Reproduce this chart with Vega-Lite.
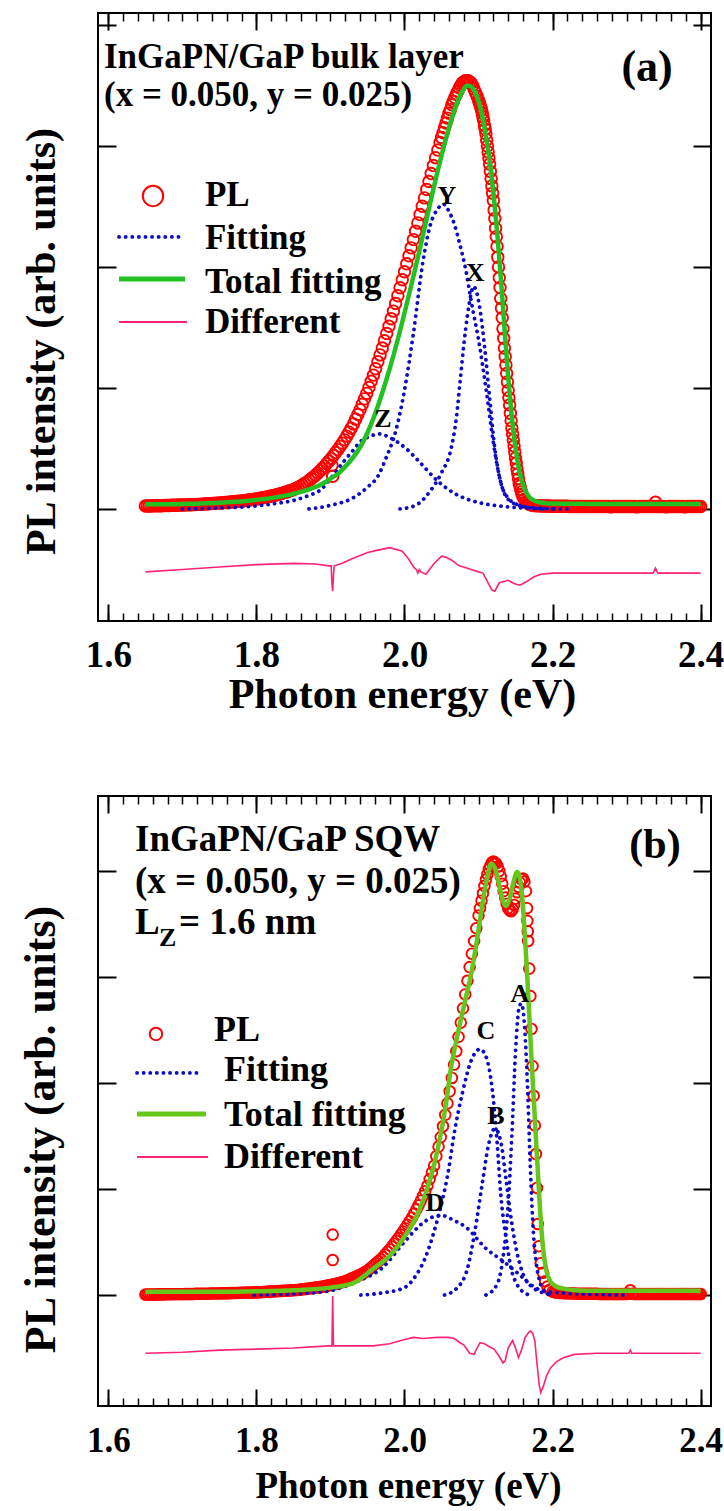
{
"$schema":"https://vega.github.io/schema/vega-lite/v6.json",
"background":"white",
"padding":{"left":17,"top":11,"right":5,"bottom":5},
"spacing":175,
"bounds":"flush",
"config":{
 "view":{"stroke":"#000","strokeWidth":2},
 "axis":{"grid":false,"domain":false,"labelFont":"Liberation Serif","titleFont":"Liberation Serif","labelFontWeight":"bold","titleFontWeight":"bold","labelColor":"#000","titleColor":"#000","tickColor":"#000","tickWidth":1.8,"labelFlush":false,"labelOverlap":false,"labelBound":false},
 "text":{"font":"Liberation Serif","fontWeight":"bold","color":"#000"}
},
"datasets":{
"pa":[{"e":1.65,"v":0.025},{"e":1.6525,"v":0.025},{"e":1.655,"v":0.025},{"e":1.6575,"v":0.025},{"e":1.66,"v":0.026},{"e":1.6625,"v":0.026},{"e":1.665,"v":0.026},{"e":1.6675,"v":0.027},{"e":1.67,"v":0.027},{"e":1.6725,"v":0.027},{"e":1.675,"v":0.028},{"e":1.6775,"v":0.028},{"e":1.68,"v":0.029},{"e":1.6825,"v":0.029},{"e":1.685,"v":0.03},{"e":1.6875,"v":0.03},{"e":1.69,"v":0.031},{"e":1.6925,"v":0.031},{"e":1.695,"v":0.032},{"e":1.6975,"v":0.032},{"e":1.7,"v":0.033},{"e":1.7025,"v":0.033},{"e":1.705,"v":0.034},{"e":1.7075,"v":0.034},{"e":1.71,"v":0.035},{"e":1.7125,"v":0.035},{"e":1.715,"v":0.036},{"e":1.7175,"v":0.037},{"e":1.72,"v":0.038},{"e":1.7225,"v":0.038},{"e":1.725,"v":0.039},{"e":1.7275,"v":0.04},{"e":1.73,"v":0.041},{"e":1.7325,"v":0.042},{"e":1.735,"v":0.043},{"e":1.7375,"v":0.044},{"e":1.74,"v":0.045},{"e":1.7425,"v":0.046},{"e":1.745,"v":0.047},{"e":1.7475,"v":0.048},{"e":1.75,"v":0.049},{"e":1.7525,"v":0.05},{"e":1.755,"v":0.052},{"e":1.7575,"v":0.053},{"e":1.76,"v":0.054},{"e":1.7625,"v":0.055},{"e":1.765,"v":0.057},{"e":1.7675,"v":0.058},{"e":1.77,"v":0.06},{"e":1.7725,"v":0.061},{"e":1.775,"v":0.063},{"e":1.7775,"v":0.064},{"e":1.78,"v":0.066},{"e":1.7825,"v":0.068},{"e":1.785,"v":0.07},{"e":1.7875,"v":0.072},{"e":1.79,"v":0.074},{"e":1.7925,"v":0.076},{"e":1.795,"v":0.079},{"e":1.7975,"v":0.081},{"e":1.8,"v":0.083},{"e":1.8025,"v":0.086},{"e":1.805,"v":0.089},{"e":1.8075,"v":0.091},{"e":1.81,"v":0.094},{"e":1.8125,"v":0.097},{"e":1.815,"v":0.1},{"e":1.8175,"v":0.103},{"e":1.82,"v":0.107},{"e":1.8225,"v":0.11},{"e":1.825,"v":0.114},{"e":1.8275,"v":0.118},{"e":1.83,"v":0.122},{"e":1.8325,"v":0.126},{"e":1.835,"v":0.131},{"e":1.8375,"v":0.135},{"e":1.84,"v":0.14},{"e":1.8425,"v":0.145},{"e":1.845,"v":0.15},{"e":1.8475,"v":0.155},{"e":1.85,"v":0.16},
{"e":1.853,"v":0.169},{"e":1.856,"v":0.178},{"e":1.859,"v":0.187},{"e":1.862,"v":0.198},{"e":1.865,"v":0.21},{"e":1.868,"v":0.222},{"e":1.871,"v":0.235},{"e":1.874,"v":0.25},{"e":1.877,"v":0.265},{"e":1.88,"v":0.28},{"e":1.883,"v":0.298},{"e":1.886,"v":0.316},{"e":1.889,"v":0.334},{"e":1.892,"v":0.354},{"e":1.895,"v":0.375},{"e":1.898,"v":0.396},{"e":1.901,"v":0.418},{"e":1.902,"v":0.36},{"e":1.903,"v":0.27},{"e":1.904,"v":0.442},{"e":1.907,"v":0.466},{"e":1.91,"v":0.49},{"e":1.913,"v":0.517},{"e":1.916,"v":0.544},{"e":1.919,"v":0.571},{"e":1.922,"v":0.602},{"e":1.925,"v":0.635},{"e":1.928,"v":0.668},{"e":1.931,"v":0.703},{"e":1.934,"v":0.742},{"e":1.937,"v":0.781},{"e":1.94,"v":0.82},{"e":1.943,"v":0.865},{"e":1.946,"v":0.91},{"e":1.949,"v":0.955},{"e":1.952,"v":1.004},{"e":1.955,"v":1.055},{"e":1.958,"v":1.106},{"e":1.961,"v":1.159},{"e":1.964,"v":1.216},{"e":1.967,"v":1.273},{"e":1.97,"v":1.33},{"e":1.973,"v":1.39},{"e":1.976,"v":1.45},{"e":1.979,"v":1.51},{"e":1.982,"v":1.572},{"e":1.985,"v":1.635},{"e":1.988,"v":1.698},{"e":1.991,"v":1.762},{"e":1.994,"v":1.828},{"e":1.997,"v":1.894},{"e":2.0,"v":1.96},{"e":2.003,"v":2.026},{"e":2.006,"v":2.092},{"e":2.009,"v":2.158},{"e":2.012,"v":2.226},{"e":2.015,"v":2.295},{"e":2.018,"v":2.364},{"e":2.021,"v":2.433},{"e":2.024,"v":2.502},{"e":2.027,"v":2.571},{"e":2.03,"v":2.64},{"e":2.033,"v":2.706},{"e":2.036,"v":2.772},{"e":2.039,"v":2.838},{"e":2.042,"v":2.903},{"e":2.045,"v":2.966},{"e":2.048,"v":3.028},
{"e":2.05,"v":3.07},{"e":2.052,"v":3.11},{"e":2.054,"v":3.15},{"e":2.056,"v":3.19},{"e":2.058,"v":3.23},{"e":2.06,"v":3.27},{"e":2.062,"v":3.3},{"e":2.064,"v":3.34},{"e":2.066,"v":3.37},{"e":2.068,"v":3.4},{"e":2.07,"v":3.43},{"e":2.072,"v":3.45},{"e":2.074,"v":3.48},{"e":2.076,"v":3.5},{"e":2.078,"v":3.52},{"e":2.08,"v":3.53},{"e":2.082,"v":3.54},{"e":2.084,"v":3.54},{"e":2.086,"v":3.54},{"e":2.088,"v":3.53},{"e":2.09,"v":3.52},{"e":2.092,"v":3.5},{"e":2.094,"v":3.47},{"e":2.096,"v":3.44},{"e":2.098,"v":3.41},{"e":2.1,"v":3.38},
{"e":2.101,"v":3.36},{"e":2.102,"v":3.34},{"e":2.103,"v":3.32},{"e":2.104,"v":3.3},{"e":2.105,"v":3.27},{"e":2.106,"v":3.24},{"e":2.107,"v":3.21},{"e":2.108,"v":3.17},{"e":2.109,"v":3.14},{"e":2.11,"v":3.1},{"e":2.111,"v":3.05},{"e":2.112,"v":3.0},{"e":2.113,"v":2.95},{"e":2.114,"v":2.9},{"e":2.115,"v":2.85},{"e":2.116,"v":2.79},{"e":2.117,"v":2.73},{"e":2.118,"v":2.67},{"e":2.119,"v":2.61},{"e":2.12,"v":2.55},{"e":2.121,"v":2.47},{"e":2.122,"v":2.4},{"e":2.123,"v":2.32},{"e":2.124,"v":2.25},{"e":2.125,"v":2.17},{"e":2.126,"v":2.08},{"e":2.127,"v":2.0},{"e":2.128,"v":1.91},{"e":2.129,"v":1.83},{"e":2.13,"v":1.74},{"e":2.131,"v":1.66},{"e":2.132,"v":1.58},{"e":2.133,"v":1.49},{"e":2.134,"v":1.41},{"e":2.135,"v":1.33},{"e":2.136,"v":1.26},{"e":2.137,"v":1.19},{"e":2.138,"v":1.12},{"e":2.139,"v":1.05},{"e":2.14,"v":0.98},{"e":2.141,"v":0.92},{"e":2.142,"v":0.86},{"e":2.143,"v":0.79},{"e":2.144,"v":0.73},{"e":2.145,"v":0.67},{"e":2.146,"v":0.62},{"e":2.147,"v":0.57},{"e":2.148,"v":0.52},{"e":2.149,"v":0.47},{"e":2.15,"v":0.42},{"e":2.151,"v":0.38},{"e":2.152,"v":0.33},{"e":2.153,"v":0.29},{"e":2.154,"v":0.25},{"e":2.155,"v":0.21},{"e":2.156,"v":0.19},{"e":2.157,"v":0.16},{"e":2.158,"v":0.14},{"e":2.159,"v":0.12},{"e":2.16,"v":0.1},{"e":2.162,"v":0.08},{"e":2.164,"v":0.06},{"e":2.166,"v":0.05},{"e":2.168,"v":0.04},{"e":2.17,"v":0.035},
{"e":2.1725,"v":0.031},{"e":2.175,"v":0.028},{"e":2.1775,"v":0.027},{"e":2.18,"v":0.026},{"e":2.1825,"v":0.026},{"e":2.185,"v":0.025},{"e":2.1875,"v":0.025},{"e":2.19,"v":0.024},{"e":2.1925,"v":0.024},{"e":2.195,"v":0.024},{"e":2.1975,"v":0.023},{"e":2.2,"v":0.023},{"e":2.2025,"v":0.023},{"e":2.205,"v":0.023},{"e":2.2075,"v":0.022},{"e":2.21,"v":0.022},{"e":2.2125,"v":0.022},{"e":2.215,"v":0.022},{"e":2.2175,"v":0.022},{"e":2.22,"v":0.022},{"e":2.2225,"v":0.021},{"e":2.225,"v":0.021},{"e":2.2275,"v":0.021},{"e":2.23,"v":0.021},{"e":2.2325,"v":0.021},{"e":2.235,"v":0.021},{"e":2.2375,"v":0.021},{"e":2.24,"v":0.021},{"e":2.2425,"v":0.021},{"e":2.245,"v":0.021},{"e":2.2475,"v":0.02},{"e":2.25,"v":0.02},{"e":2.2525,"v":0.02},{"e":2.255,"v":0.02},{"e":2.2575,"v":0.02},{"e":2.26,"v":0.02},{"e":2.2625,"v":0.02},{"e":2.265,"v":0.021},{"e":2.2675,"v":0.02},{"e":2.27,"v":0.02},{"e":2.2725,"v":0.02},{"e":2.275,"v":0.02},{"e":2.2775,"v":0.019},{"e":2.28,"v":0.019},{"e":2.2825,"v":0.02},{"e":2.285,"v":0.02},{"e":2.2875,"v":0.02},{"e":2.29,"v":0.02},{"e":2.2925,"v":0.02},{"e":2.295,"v":0.02},{"e":2.2975,"v":0.021},{"e":2.3,"v":0.021},{"e":2.3025,"v":0.02},{"e":2.305,"v":0.02},{"e":2.3075,"v":0.02},{"e":2.31,"v":0.02},{"e":2.3125,"v":0.019},{"e":2.315,"v":0.019},{"e":2.3175,"v":0.02},{"e":2.32,"v":0.02},{"e":2.3225,"v":0.02},{"e":2.325,"v":0.02},{"e":2.3275,"v":0.02},{"e":2.33,"v":0.02},{"e":2.3325,"v":0.02},{"e":2.335,"v":0.02},{"e":2.3375,"v":0.02},{"e":2.339,"v":0.055},{"e":2.34,"v":0.02},{"e":2.3425,"v":0.02},{"e":2.345,"v":0.02},{"e":2.3475,"v":0.02},{"e":2.35,"v":0.02},{"e":2.3525,"v":0.019},{"e":2.355,"v":0.019},{"e":2.3575,"v":0.02},{"e":2.36,"v":0.02},{"e":2.3625,"v":0.02},{"e":2.365,"v":0.02},{"e":2.3675,"v":0.02},{"e":2.37,"v":0.02},{"e":2.3725,"v":0.02},{"e":2.375,"v":0.02},{"e":2.3775,"v":0.019},{"e":2.38,"v":0.019},{"e":2.3825,"v":0.02},{"e":2.385,"v":0.02},{"e":2.3875,"v":0.02},{"e":2.39,"v":0.02},{"e":2.3925,"v":0.02},{"e":2.395,"v":0.02},{"e":2.3975,"v":0.02},{"e":2.4,"v":0.02}],
"ta":[{"e":1.65,"v":0.038},{"e":1.7,"v":0.042},{"e":1.75,"v":0.052},{"e":1.8,"v":0.075},{"e":1.83,"v":0.1},{"e":1.85,"v":0.125},{"e":1.87,"v":0.16},{"e":1.89,"v":0.21},{"e":1.9,"v":0.25},{"e":1.91,"v":0.29},{"e":1.92,"v":0.35},{"e":1.93,"v":0.42},{"e":1.94,"v":0.51},{"e":1.95,"v":0.63},{"e":1.96,"v":0.78},{"e":1.97,"v":0.96},{"e":1.98,"v":1.16},{"e":1.99,"v":1.38},{"e":2.0,"v":1.62},{"e":2.01,"v":1.87},{"e":2.02,"v":2.13},{"e":2.03,"v":2.4},{"e":2.04,"v":2.67},{"e":2.05,"v":2.92},{"e":2.06,"v":3.15},{"e":2.07,"v":3.34},{"e":2.078,"v":3.45},{"e":2.085,"v":3.5},{"e":2.09,"v":3.49},{"e":2.095,"v":3.45},{"e":2.1,"v":3.37},{"e":2.105,"v":3.25},{"e":2.11,"v":3.08},{"e":2.115,"v":2.88},{"e":2.12,"v":2.62},{"e":2.125,"v":2.3},{"e":2.13,"v":1.92},{"e":2.135,"v":1.5},{"e":2.14,"v":1.1},{"e":2.145,"v":0.76},{"e":2.15,"v":0.5},{"e":2.155,"v":0.32},{"e":2.16,"v":0.2},{"e":2.165,"v":0.13},{"e":2.17,"v":0.09},{"e":2.175,"v":0.07},{"e":2.18,"v":0.058},{"e":2.19,"v":0.048},{"e":2.2,"v":0.045},{"e":2.25,"v":0.042},{"e":2.3,"v":0.04},{"e":2.4,"v":0.04}],
"fa":[{"c":"Z","e":1.7,"v":0},{"c":"Z","e":1.75,"v":0.008},{"c":"Z","e":1.8,"v":0.025},{"c":"Z","e":1.826,"v":0.045},{"c":"Z","e":1.85,"v":0.07},{"c":"Z","e":1.87,"v":0.11},{"c":"Z","e":1.887,"v":0.16},{"c":"Z","e":1.9,"v":0.25},{"c":"Z","e":1.919,"v":0.4},{"c":"Z","e":1.93,"v":0.48},{"c":"Z","e":1.941,"v":0.56},{"c":"Z","e":1.953,"v":0.6},{"c":"Z","e":1.967,"v":0.62},{"c":"Z","e":1.98,"v":0.59},{"c":"Z","e":2.002,"v":0.5},{"c":"Z","e":2.02,"v":0.39},{"c":"Z","e":2.045,"v":0.23},{"c":"Z","e":2.07,"v":0.12},{"c":"Z","e":2.09,"v":0.07},{"c":"Z","e":2.11,"v":0.04},{"c":"Z","e":2.135,"v":0.02},{"c":"Z","e":2.16,"v":0.008},{"c":"Z","e":2.19,"v":0.003},{"c":"Z","e":2.228,"v":0},
{"c":"Y","e":1.871,"v":0},{"c":"Y","e":1.9,"v":0.03},{"c":"Y","e":1.93,"v":0.09},{"c":"Y","e":1.95,"v":0.18},{"c":"Y","e":1.964,"v":0.27},{"c":"Y","e":1.975,"v":0.42},{"c":"Y","e":1.988,"v":0.64},{"c":"Y","e":2.0,"v":0.98},{"c":"Y","e":2.012,"v":1.45},{"c":"Y","e":2.025,"v":2.05},{"c":"Y","e":2.035,"v":2.35},{"c":"Y","e":2.045,"v":2.48},{"c":"Y","e":2.052,"v":2.52},{"c":"Y","e":2.06,"v":2.46},{"c":"Y","e":2.068,"v":2.34},{"c":"Y","e":2.075,"v":2.18},{"c":"Y","e":2.083,"v":1.97},{"c":"Y","e":2.09,"v":1.72},{"c":"Y","e":2.1,"v":1.4},{"c":"Y","e":2.11,"v":1.0},{"c":"Y","e":2.12,"v":0.55},{"c":"Y","e":2.13,"v":0.22},{"c":"Y","e":2.14,"v":0.08},{"c":"Y","e":2.16,"v":0.02},{"c":"Y","e":2.2,"v":0},
{"c":"X","e":1.994,"v":0},{"c":"X","e":2.015,"v":0.03},{"c":"X","e":2.035,"v":0.15},{"c":"X","e":2.05,"v":0.3},{"c":"X","e":2.063,"v":0.5},{"c":"X","e":2.07,"v":0.75},{"c":"X","e":2.075,"v":1.05},{"c":"X","e":2.08,"v":1.35},{"c":"X","e":2.085,"v":1.6},{"c":"X","e":2.09,"v":1.78},{"c":"X","e":2.093,"v":1.84},{"c":"X","e":2.097,"v":1.8},{"c":"X","e":2.102,"v":1.65},{"c":"X","e":2.108,"v":1.35},{"c":"X","e":2.115,"v":0.92},{"c":"X","e":2.122,"v":0.5},{"c":"X","e":2.13,"v":0.22},{"c":"X","e":2.14,"v":0.09},{"c":"X","e":2.155,"v":0.03},{"c":"X","e":2.17,"v":0.01},{"c":"X","e":2.19,"v":0}],
"da":[{"e":1.65,"v":-0.52},{"e":1.7,"v":-0.5},{"e":1.75,"v":-0.48},{"e":1.8,"v":-0.46},{"e":1.85,"v":-0.45},{"e":1.88,"v":-0.455},{"e":1.898,"v":-0.47},{"e":1.901,"v":-0.47},{"e":1.902,"v":-0.62},{"e":1.903,"v":-0.68},{"e":1.904,"v":-0.55},{"e":1.905,"v":-0.47},{"e":1.915,"v":-0.45},{"e":1.93,"v":-0.41},{"e":1.95,"v":-0.36},{"e":1.964,"v":-0.34},{"e":1.98,"v":-0.32},{"e":1.997,"v":-0.35},{"e":2.005,"v":-0.41},{"e":2.013,"v":-0.485},{"e":2.016,"v":-0.5},{"e":2.018,"v":-0.53},{"e":2.02,"v":-0.5},{"e":2.022,"v":-0.52},{"e":2.029,"v":-0.54},{"e":2.04,"v":-0.45},{"e":2.05,"v":-0.39},{"e":2.056,"v":-0.4},{"e":2.063,"v":-0.42},{"e":2.074,"v":-0.47},{"e":2.085,"v":-0.49},{"e":2.09,"v":-0.5},{"e":2.1,"v":-0.52},{"e":2.106,"v":-0.53},{"e":2.112,"v":-0.6},{"e":2.118,"v":-0.67},{"e":2.122,"v":-0.68},{"e":2.128,"v":-0.61},{"e":2.134,"v":-0.6},{"e":2.14,"v":-0.59},{"e":2.146,"v":-0.61},{"e":2.15,"v":-0.62},{"e":2.156,"v":-0.63},{"e":2.165,"v":-0.6},{"e":2.175,"v":-0.56},{"e":2.184,"v":-0.54},{"e":2.2,"v":-0.53},{"e":2.25,"v":-0.53},{"e":2.3,"v":-0.53},{"e":2.336,"v":-0.53},{"e":2.339,"v":-0.49},{"e":2.342,"v":-0.53},{"e":2.4,"v":-0.53}],
"pb":[{"e":1.65,"v":0.004},{"e":1.6525,"v":0.004},{"e":1.655,"v":0.004},{"e":1.6575,"v":0.005},{"e":1.66,"v":0.005},{"e":1.6625,"v":0.005},{"e":1.665,"v":0.005},{"e":1.6675,"v":0.006},{"e":1.67,"v":0.006},{"e":1.6725,"v":0.006},{"e":1.675,"v":0.006},{"e":1.6775,"v":0.007},{"e":1.68,"v":0.007},{"e":1.6825,"v":0.007},{"e":1.685,"v":0.007},{"e":1.6875,"v":0.008},{"e":1.69,"v":0.008},{"e":1.6925,"v":0.008},{"e":1.695,"v":0.008},{"e":1.6975,"v":0.008},{"e":1.7,"v":0.008},{"e":1.7025,"v":0.009},{"e":1.705,"v":0.009},{"e":1.7075,"v":0.01},{"e":1.71,"v":0.01},{"e":1.7125,"v":0.01},{"e":1.715,"v":0.01},{"e":1.7175,"v":0.011},{"e":1.72,"v":0.011},{"e":1.7225,"v":0.012},{"e":1.725,"v":0.012},{"e":1.7275,"v":0.012},{"e":1.73,"v":0.012},{"e":1.7325,"v":0.013},{"e":1.735,"v":0.013},{"e":1.7375,"v":0.014},{"e":1.74,"v":0.014},{"e":1.7425,"v":0.014},{"e":1.745,"v":0.014},{"e":1.7475,"v":0.015},{"e":1.75,"v":0.015},{"e":1.7525,"v":0.016},{"e":1.755,"v":0.016},{"e":1.7575,"v":0.017},{"e":1.76,"v":0.017},{"e":1.7625,"v":0.018},{"e":1.765,"v":0.018},{"e":1.7675,"v":0.019},{"e":1.77,"v":0.019},{"e":1.7725,"v":0.02},{"e":1.775,"v":0.02},{"e":1.7775,"v":0.021},{"e":1.78,"v":0.021},{"e":1.7825,"v":0.022},{"e":1.785,"v":0.022},{"e":1.7875,"v":0.023},{"e":1.79,"v":0.023},{"e":1.7925,"v":0.024},{"e":1.795,"v":0.024},{"e":1.7975,"v":0.025},{"e":1.8,"v":0.025},{"e":1.8025,"v":0.026},{"e":1.805,"v":0.027},{"e":1.8075,"v":0.028},{"e":1.81,"v":0.029},{"e":1.8125,"v":0.03},{"e":1.815,"v":0.031},{"e":1.8175,"v":0.032},{"e":1.82,"v":0.033},{"e":1.8225,"v":0.034},{"e":1.825,"v":0.035},{"e":1.8275,"v":0.036},{"e":1.83,"v":0.037},{"e":1.8325,"v":0.038},{"e":1.835,"v":0.039},{"e":1.8375,"v":0.04},{"e":1.84,"v":0.041},{"e":1.8425,"v":0.042},{"e":1.845,"v":0.043},{"e":1.8475,"v":0.044},{"e":1.85,"v":0.045},{"e":1.8525,"v":0.047},{"e":1.855,"v":0.048},{"e":1.8575,"v":0.05},{"e":1.86,"v":0.052},{"e":1.8625,"v":0.054},{"e":1.865,"v":0.056},{"e":1.8675,"v":0.058},{"e":1.87,"v":0.06},{"e":1.8725,"v":0.063},{"e":1.875,"v":0.065},{"e":1.8775,"v":0.068},{"e":1.88,"v":0.07},{"e":1.8825,"v":0.073},{"e":1.885,"v":0.075},{"e":1.8875,"v":0.078},{"e":1.89,"v":0.08},{"e":1.8925,"v":0.084},{"e":1.895,"v":0.087},{"e":1.8975,"v":0.091},{"e":1.9,"v":0.095},{"e":1.903,"v":0.57},{"e":1.903,"v":0.33},{"e":1.9025,"v":0.098},{"e":1.905,"v":0.102},{"e":1.9075,"v":0.106},{"e":1.91,"v":0.11},{"e":1.9125,"v":0.115},{"e":1.915,"v":0.12},{"e":1.9175,"v":0.125},{"e":1.92,"v":0.13},{"e":1.9225,"v":0.138},{"e":1.925,"v":0.145},{"e":1.9275,"v":0.153},{"e":1.93,"v":0.16},{"e":1.9325,"v":0.168},{"e":1.935,"v":0.175},{"e":1.9375,"v":0.183},{"e":1.94,"v":0.19},{"e":1.9425,"v":0.2},{"e":1.945,"v":0.21},{"e":1.9475,"v":0.22},{"e":1.95,"v":0.23},
{"e":1.953,"v":0.248},{"e":1.956,"v":0.266},{"e":1.959,"v":0.284},{"e":1.962,"v":0.302},{"e":1.965,"v":0.32},{"e":1.968,"v":0.338},{"e":1.971,"v":0.358},{"e":1.974,"v":0.382},{"e":1.977,"v":0.406},{"e":1.98,"v":0.43},{"e":1.983,"v":0.457},{"e":1.986,"v":0.484},{"e":1.989,"v":0.511},{"e":1.992,"v":0.538},{"e":1.995,"v":0.57},{"e":1.998,"v":0.6},{"e":2.001,"v":0.631},{"e":2.004,"v":0.664},{"e":2.007,"v":0.697},{"e":2.01,"v":0.73},{"e":2.013,"v":0.769},{"e":2.016,"v":0.808},{"e":2.019,"v":0.847},{"e":2.022,"v":0.89},{"e":2.025,"v":0.935},{"e":2.028,"v":0.98},{"e":2.031,"v":1.031},{"e":2.034,"v":1.094},{"e":2.037,"v":1.157},{"e":2.04,"v":1.22},{"e":2.043,"v":1.31},{"e":2.046,"v":1.4},{"e":2.049,"v":1.49},{"e":2.052,"v":1.592},{"e":2.055,"v":1.7},{"e":2.058,"v":1.808},{"e":2.061,"v":1.922},{"e":2.064,"v":2.048},{"e":2.067,"v":2.174},{"e":2.07,"v":2.3},{"e":2.073,"v":2.435},{"e":2.076,"v":2.57},{"e":2.079,"v":2.705},{"e":2.082,"v":2.836},{"e":2.085,"v":2.965},{"e":2.088,"v":3.094},{"e":2.091,"v":3.22},{"e":2.094,"v":3.34},{"e":2.097,"v":3.46},{"e":2.1,"v":3.58},
{"e":2.102,"v":3.65},{"e":2.104,"v":3.72},{"e":2.106,"v":3.79},{"e":2.108,"v":3.86},{"e":2.11,"v":3.92},{"e":2.112,"v":3.97},{"e":2.114,"v":4.02},{"e":2.116,"v":4.05},{"e":2.118,"v":4.08},{"e":2.12,"v":4.09},{"e":2.122,"v":4.08},{"e":2.124,"v":4.07},{"e":2.126,"v":4.04},{"e":2.128,"v":4.0},{"e":2.13,"v":3.95},{"e":2.132,"v":3.88},{"e":2.134,"v":3.81},{"e":2.136,"v":3.75},{"e":2.138,"v":3.69},{"e":2.14,"v":3.65},{"e":2.142,"v":3.63},{"e":2.144,"v":3.62},{"e":2.146,"v":3.64},{"e":2.148,"v":3.68},{"e":2.15,"v":3.74},{"e":2.152,"v":3.8},{"e":2.154,"v":3.85},{"e":2.156,"v":3.89},{"e":2.158,"v":3.92},{"e":2.16,"v":3.93},{"e":2.162,"v":3.9},
{"e":2.164,"v":3.81},{"e":2.1655,"v":3.65},{"e":2.166,"v":3.53},{"e":2.1665,"v":3.43},{"e":2.167,"v":3.34},{"e":2.1685,"v":3.08},{"e":2.17,"v":2.82},{"e":2.1715,"v":2.51},{"e":2.173,"v":2.16},{"e":2.1745,"v":1.88},{"e":2.176,"v":1.6},{"e":2.1775,"v":1.33},{"e":2.179,"v":1.01},{"e":2.18,"v":0.67},{"e":2.1815,"v":0.46},{"e":2.184,"v":0.3},{"e":2.187,"v":0.21},{"e":2.19,"v":0.13},{"e":2.193,"v":0.08},{"e":2.196,"v":0.05},{"e":2.2,"v":0.03},
{"e":2.2025,"v":0.027},{"e":2.205,"v":0.024},{"e":2.2075,"v":0.022},{"e":2.21,"v":0.02},{"e":2.2125,"v":0.019},{"e":2.215,"v":0.018},{"e":2.2175,"v":0.017},{"e":2.22,"v":0.016},{"e":2.2225,"v":0.015},{"e":2.225,"v":0.015},{"e":2.2275,"v":0.014},{"e":2.23,"v":0.014},{"e":2.2325,"v":0.013},{"e":2.235,"v":0.013},{"e":2.2375,"v":0.012},{"e":2.24,"v":0.012},{"e":2.2425,"v":0.012},{"e":2.245,"v":0.012},{"e":2.2475,"v":0.011},{"e":2.25,"v":0.011},{"e":2.2525,"v":0.011},{"e":2.255,"v":0.011},{"e":2.2575,"v":0.011},{"e":2.26,"v":0.011},{"e":2.2625,"v":0.01},{"e":2.265,"v":0.01},{"e":2.2675,"v":0.01},{"e":2.27,"v":0.01},{"e":2.2725,"v":0.01},{"e":2.275,"v":0.01},{"e":2.2775,"v":0.01},{"e":2.28,"v":0.01},{"e":2.2825,"v":0.01},{"e":2.285,"v":0.01},{"e":2.2875,"v":0.01},{"e":2.29,"v":0.01},{"e":2.2925,"v":0.01},{"e":2.295,"v":0.01},{"e":2.2975,"v":0.01},{"e":2.3,"v":0.01},{"e":2.3025,"v":0.012},{"e":2.305,"v":0.045},{"e":2.3075,"v":0.012},{"e":2.31,"v":0.01},{"e":2.3125,"v":0.01},{"e":2.315,"v":0.01},{"e":2.3175,"v":0.01},{"e":2.32,"v":0.01},{"e":2.3225,"v":0.01},{"e":2.325,"v":0.01},{"e":2.3275,"v":0.01},{"e":2.33,"v":0.01},{"e":2.3325,"v":0.01},{"e":2.335,"v":0.01},{"e":2.3375,"v":0.01},{"e":2.34,"v":0.01},{"e":2.3425,"v":0.01},{"e":2.345,"v":0.01},{"e":2.3475,"v":0.01},{"e":2.35,"v":0.01},{"e":2.3525,"v":0.01},{"e":2.355,"v":0.01},{"e":2.3575,"v":0.01},{"e":2.36,"v":0.01},{"e":2.3625,"v":0.01},{"e":2.365,"v":0.01},{"e":2.3675,"v":0.01},{"e":2.37,"v":0.01},{"e":2.3725,"v":0.01},{"e":2.375,"v":0.01},{"e":2.3775,"v":0.01},{"e":2.38,"v":0.01},{"e":2.3825,"v":0.01},{"e":2.385,"v":0.01},{"e":2.3875,"v":0.01},{"e":2.39,"v":0.01},{"e":2.3925,"v":0.01},{"e":2.395,"v":0.01},{"e":2.3975,"v":0.01},{"e":2.4,"v":0.01}],
"tb":[{"e":1.65,"v":0.03},{"e":1.75,"v":0.03},{"e":1.8,"v":0.035},{"e":1.85,"v":0.045},{"e":1.9,"v":0.07},{"e":1.93,"v":0.11},{"e":1.958,"v":0.25},{"e":1.98,"v":0.37},{"e":2.0,"v":0.55},{"e":2.02,"v":0.8},{"e":2.035,"v":1.1},{"e":2.045,"v":1.38},{"e":2.056,"v":1.8},{"e":2.063,"v":2.15},{"e":2.07,"v":2.4},{"e":2.08,"v":2.72},{"e":2.09,"v":3.03},{"e":2.098,"v":3.35},{"e":2.106,"v":3.72},{"e":2.112,"v":3.95},{"e":2.117,"v":4.07},{"e":2.122,"v":4.03},{"e":2.127,"v":3.9},{"e":2.132,"v":3.74},{"e":2.137,"v":3.67},{"e":2.142,"v":3.74},{"e":2.147,"v":3.89},{"e":2.152,"v":3.99},{"e":2.155,"v":3.96},{"e":2.159,"v":3.75},{"e":2.163,"v":3.35},{"e":2.167,"v":2.85},{"e":2.171,"v":2.3},{"e":2.175,"v":1.8},{"e":2.179,"v":1.3},{"e":2.183,"v":0.82},{"e":2.187,"v":0.45},{"e":2.192,"v":0.22},{"e":2.197,"v":0.13},{"e":2.205,"v":0.08},{"e":2.215,"v":0.06},{"e":2.23,"v":0.045},{"e":2.26,"v":0.04},{"e":2.4,"v":0.04}],
"fb":[{"c":"A","e":2.11,"v":0},{"c":"A","e":2.125,"v":0.1},{"c":"A","e":2.133,"v":0.35},{"c":"A","e":2.14,"v":0.85},{"c":"A","e":2.145,"v":1.5},{"c":"A","e":2.15,"v":2.3},{"c":"A","e":2.155,"v":2.72},{"c":"A","e":2.158,"v":2.75},{"c":"A","e":2.162,"v":2.55},{"c":"A","e":2.166,"v":2.0},{"c":"A","e":2.17,"v":1.2},{"c":"A","e":2.174,"v":0.6},{"c":"A","e":2.178,"v":0.3},{"c":"A","e":2.183,"v":0.12},{"c":"A","e":2.19,"v":0.03},{"c":"A","e":2.2,"v":0},
{"c":"B","e":2.054,"v":0},{"c":"B","e":2.07,"v":0.06},{"c":"B","e":2.085,"v":0.25},{"c":"B","e":2.095,"v":0.6},{"c":"B","e":2.105,"v":1.05},{"c":"B","e":2.113,"v":1.4},{"c":"B","e":2.122,"v":1.57},{"c":"B","e":2.13,"v":1.45},{"c":"B","e":2.137,"v":1.1},{"c":"B","e":2.144,"v":0.72},{"c":"B","e":2.152,"v":0.4},{"c":"B","e":2.16,"v":0.2},{"c":"B","e":2.17,"v":0.09},{"c":"B","e":2.18,"v":0.04},{"c":"B","e":2.19,"v":0.015},{"c":"B","e":2.2,"v":0},
{"c":"C","e":1.941,"v":0},{"c":"C","e":1.97,"v":0.02},{"c":"C","e":2.0,"v":0.07},{"c":"C","e":2.015,"v":0.18},{"c":"C","e":2.028,"v":0.35},{"c":"C","e":2.04,"v":0.6},{"c":"C","e":2.051,"v":0.89},{"c":"C","e":2.06,"v":1.2},{"c":"C","e":2.067,"v":1.52},{"c":"C","e":2.078,"v":1.9},{"c":"C","e":2.09,"v":2.21},{"c":"C","e":2.102,"v":2.32},{"c":"C","e":2.11,"v":2.25},{"c":"C","e":2.12,"v":1.85},{"c":"C","e":2.125,"v":1.45},{"c":"C","e":2.13,"v":0.95},{"c":"C","e":2.137,"v":0.55},{"c":"C","e":2.144,"v":0.25},{"c":"C","e":2.152,"v":0.1},{"c":"C","e":2.162,"v":0.02},{"c":"C","e":2.17,"v":0},
{"c":"D","e":1.797,"v":0},{"c":"D","e":1.85,"v":0.01},{"c":"D","e":1.9,"v":0.04},{"c":"D","e":1.914,"v":0.07},{"c":"D","e":1.94,"v":0.14},{"c":"D","e":1.969,"v":0.25},{"c":"D","e":2.001,"v":0.51},{"c":"D","e":2.023,"v":0.67},{"c":"D","e":2.04,"v":0.74},{"c":"D","e":2.051,"v":0.75},{"c":"D","e":2.065,"v":0.71},{"c":"D","e":2.083,"v":0.64},{"c":"D","e":2.11,"v":0.44},{"c":"D","e":2.133,"v":0.32},{"c":"D","e":2.154,"v":0.2},{"c":"D","e":2.17,"v":0.1},{"c":"D","e":2.187,"v":0.04},{"c":"D","e":2.22,"v":0.015},{"c":"D","e":2.26,"v":0.005},{"c":"D","e":2.297,"v":0}],
"db":[{"e":1.65,"v":-0.55},{"e":1.7,"v":-0.54},{"e":1.75,"v":-0.52},{"e":1.8,"v":-0.51},{"e":1.85,"v":-0.5},{"e":1.898,"v":-0.48},{"e":1.902,"v":-0.48},{"e":1.903,"v":-0.01},{"e":1.904,"v":-0.48},{"e":1.93,"v":-0.48},{"e":1.958,"v":-0.48},{"e":1.98,"v":-0.46},{"e":2.0,"v":-0.42},{"e":2.012,"v":-0.4},{"e":2.025,"v":-0.41},{"e":2.045,"v":-0.4},{"e":2.06,"v":-0.4},{"e":2.067,"v":-0.41},{"e":2.075,"v":-0.45},{"e":2.08,"v":-0.47},{"e":2.088,"v":-0.55},{"e":2.094,"v":-0.56},{"e":2.098,"v":-0.5},{"e":2.102,"v":-0.45},{"e":2.108,"v":-0.46},{"e":2.115,"v":-0.49},{"e":2.121,"v":-0.51},{"e":2.128,"v":-0.58},{"e":2.133,"v":-0.64},{"e":2.136,"v":-0.62},{"e":2.14,"v":-0.5},{"e":2.146,"v":-0.43},{"e":2.15,"v":-0.5},{"e":2.154,"v":-0.59},{"e":2.158,"v":-0.52},{"e":2.163,"v":-0.4},{"e":2.168,"v":-0.35},{"e":2.17,"v":-0.34},{"e":2.173,"v":-0.36},{"e":2.176,"v":-0.43},{"e":2.179,"v":-0.65},{"e":2.182,"v":-0.85},{"e":2.184,"v":-0.92},{"e":2.188,"v":-0.85},{"e":2.192,"v":-0.76},{"e":2.197,"v":-0.69},{"e":2.205,"v":-0.63},{"e":2.215,"v":-0.59},{"e":2.23,"v":-0.56},{"e":2.26,"v":-0.55},{"e":2.303,"v":-0.55},{"e":2.305,"v":-0.52},{"e":2.307,"v":-0.55},{"e":2.35,"v":-0.55},{"e":2.4,"v":-0.55}]
},
"vconcat":[
{"width":613,"height":608,
 "resolve":{"axis":{"x":"independent","y":"independent"}},
 "layer":[
  {"data":{"name":"pa"},"mark":{"type":"point","shape":"circle","filled":false,"color":"#ff0000","strokeWidth":1.9,"size":133,"opacity":1},
   "encoding":{
    "x":{"field":"e","type":"quantitative","scale":{"domain":[1.586,2.414],"nice":false,"zero":false},
     "axis":{"orient":"bottom","values":[1.6,1.8,2.0,2.2,2.4],"ticks":false,"domain":false,"labelFontSize":37,"labelPadding":45,"labelBaseline":"alphabetic","format":".1f","title":"Photon energy (eV)","titleFontSize":42,"titleX":304,"titleY":86,"titleBaseline":"alphabetic","titleAlign":"center"}},
    "y":{"field":"v","type":"quantitative","scale":{"domain":[-0.926,4.099],"nice":false,"zero":false},
     "axis":{"orient":"left","values":[0],"ticks":false,"labels":false,"domain":false,"title":"PL intensity (arb. units)","titleFontSize":42,"titleX":-57,"titleY":328,"titleAngle":270,"titleAlign":"center","titleBaseline":"middle"}}}},
  {"data":{"name":"fa"},"mark":{"type":"line","color":"#0c0cc4","strokeWidth":3.8,"strokeDash":[0.1,6.5],"strokeCap":"round","interpolate":"monotone"},
   "encoding":{
    "x":{"field":"e","type":"quantitative","scale":{"domain":[1.586,2.414],"nice":false,"zero":false},
     "axis":{"orient":"top","offset":-608,"values":[1.6,1.8,2.0,2.2,2.4],"tickSize":17,"tickWidth":2,"labels":false,"domain":false,"title":null}},
    "y":{"field":"v","type":"quantitative","scale":{"domain":[-0.926,4.099],"nice":false,"zero":false},
     "axis":{"orient":"right","offset":-613,"values":[0,1,2,3,4],"tickSize":18,"tickWidth":2,"labels":false,"domain":false,"title":null}},
    "detail":{"field":"c","type":"nominal"}}},
  {"data":{"name":"ta"},"mark":{"type":"line","color":"#22c022","strokeWidth":4.5,"interpolate":"monotone"},
   "encoding":{
    "x":{"field":"e","type":"quantitative","scale":{"domain":[1.586,2.414],"nice":false,"zero":false},
     "axis":{"orient":"top","offset":-608,"values":[1.6,1.62,1.64,1.66,1.68,1.7,1.72,1.74,1.76,1.78,1.8,1.82,1.84,1.86,1.88,1.9,1.92,1.94,1.96,1.98,2,2.02,2.04,2.06,2.08,2.1,2.12,2.14,2.16,2.18,2.2,2.22,2.24,2.26,2.28,2.3,2.32,2.34,2.36,2.38,2.4],"tickSize":8,"tickWidth":1.5,"labels":false,"domain":false,"title":null}},
    "y":{"field":"v","type":"quantitative","scale":{"domain":[-0.926,4.099],"nice":false,"zero":false},
     "axis":{"orient":"left","offset":-613,"values":[0,1,2,3,4],"tickSize":18,"tickWidth":2,"labels":false,"domain":false,"title":null}}}},
  {"data":{"name":"da"},"mark":{"type":"line","color":"#ff2277","strokeWidth":1.6},
   "encoding":{
    "x":{"field":"e","type":"quantitative","scale":{"domain":[1.586,2.414],"nice":false,"zero":false},
     "axis":{"orient":"bottom","offset":-608,"values":[1.6,1.8,2.0,2.2,2.4],"tickSize":17,"tickWidth":2,"labels":false,"domain":false,"title":null}},
    "y":{"field":"v","type":"quantitative","scale":{"domain":[-0.926,4.099],"nice":false,"zero":false},"axis":null}}},
  {"data":{"values":[{}]},"mark":{"type":"point","shape":"circle","filled":false,"color":"#ff0000","strokeWidth":2,"size":415,"opacity":1},
   "encoding":{
    "x":{"datum":1.6603,"type":"quantitative",
     "axis":{"orient":"bottom","offset":-608,"values":[1.6,1.62,1.64,1.66,1.68,1.7,1.72,1.74,1.76,1.78,1.8,1.82,1.84,1.86,1.88,1.9,1.92,1.94,1.96,1.98,2,2.02,2.04,2.06,2.08,2.1,2.12,2.14,2.16,2.18,2.2,2.22,2.24,2.26,2.28,2.3,2.32,2.34,2.36,2.38,2.4],"tickSize":8,"tickWidth":1.5,"labels":false,"domain":false,"title":null}},
    "y":{"datum":2.587,"type":"quantitative","axis":null}}},
  {"data":{"values":[{}]},"mark":{"type":"rule","color":"#0c0cc4","strokeWidth":3.8,"strokeDash":[0.1,6.5],"strokeCap":"round"},
   "encoding":{"x":{"datum":1.6144,"type":"quantitative","axis":null},"x2":{"datum":1.7022},"y":{"datum":2.248,"type":"quantitative","axis":null}}},
  {"data":{"values":[{}]},"mark":{"type":"rule","color":"#22c022","strokeWidth":5},
   "encoding":{"x":{"datum":1.6144,"type":"quantitative","axis":null},"x2":{"datum":1.7035},"y":{"datum":1.901,"type":"quantitative","axis":null}}},
  {"data":{"values":[{}]},"mark":{"type":"rule","color":"#ff2277","strokeWidth":1.8},
   "encoding":{"x":{"datum":1.6144,"type":"quantitative","axis":null},"x2":{"datum":1.7062},"y":{"datum":1.545,"type":"quantitative","axis":null}}},
  {"data":{"values":[{}]},"mark":{"type":"text","text":"PL","align":"left","baseline":"alphabetic","fontSize":35},
   "encoding":{"x":{"datum":1.7305,"type":"quantitative","axis":null},"y":{"datum":2.504,"type":"quantitative","axis":null}}},
  {"data":{"values":[{}]},"mark":{"type":"text","text":"Fitting","align":"left","baseline":"alphabetic","fontSize":35},
   "encoding":{"x":{"datum":1.7305,"type":"quantitative","axis":null},"y":{"datum":2.149,"type":"quantitative","axis":null}}},
  {"data":{"values":[{}]},"mark":{"type":"text","text":"Total fitting","align":"left","baseline":"alphabetic","fontSize":35},
   "encoding":{"x":{"datum":1.7305,"type":"quantitative","axis":null},"y":{"datum":1.785,"type":"quantitative","axis":null}}},
  {"data":{"values":[{}]},"mark":{"type":"text","text":"Different","align":"left","baseline":"alphabetic","fontSize":35},
   "encoding":{"x":{"datum":1.7305,"type":"quantitative","axis":null},"y":{"datum":1.454,"type":"quantitative","axis":null}}},
  {"data":{"values":[{}]},"mark":{"type":"text","text":"InGaPN/GaP bulk layer","align":"left","baseline":"alphabetic","fontSize":35},
   "encoding":{"x":{"datum":1.5941,"type":"quantitative","axis":null},"y":{"datum":3.646,"type":"quantitative","axis":null}}},
  {"data":{"values":[{}]},"mark":{"type":"text","text":"(x = 0.050, y = 0.025)","align":"left","baseline":"alphabetic","fontSize":35},
   "encoding":{"x":{"datum":1.5941,"type":"quantitative","axis":null},"y":{"datum":3.327,"type":"quantitative","axis":null}}},
  {"data":{"values":[{}]},"mark":{"type":"text","text":"(a)","align":"center","baseline":"alphabetic","fontSize":44},
   "encoding":{"x":{"datum":2.3276,"type":"quantitative","axis":null},"y":{"datum":3.537,"type":"quantitative","axis":null}}},
  {"data":{"values":[{}]},"mark":{"type":"text","text":"Y","align":"center","baseline":"middle","fontSize":26},
   "encoding":{"x":{"datum":2.0574,"type":"quantitative","axis":null},"y":{"datum":2.587,"type":"quantitative","axis":null}}},
  {"data":{"values":[{}]},"mark":{"type":"text","text":"X","align":"center","baseline":"middle","fontSize":26},
   "encoding":{"x":{"datum":2.0953,"type":"quantitative","axis":null},"y":{"datum":1.95,"type":"quantitative","axis":null}}},
  {"data":{"values":[{}]},"mark":{"type":"text","text":"Z","align":"center","baseline":"middle","fontSize":26},
   "encoding":{"x":{"datum":1.971,"type":"quantitative","axis":null},"y":{"datum":0.744,"type":"quantitative","axis":null}}}
 ]},
{"width":613,"height":610,
 "resolve":{"axis":{"x":"independent","y":"independent"}},
 "layer":[
  {"data":{"name":"pb"},"mark":{"type":"point","shape":"circle","filled":false,"color":"#ff0000","strokeWidth":1.9,"size":113,"opacity":1},
   "encoding":{
    "x":{"field":"e","type":"quantitative","scale":{"domain":[1.586,2.414],"nice":false,"zero":false},
     "axis":{"orient":"bottom","values":[1.6,1.8,2.0,2.2,2.4],"ticks":false,"domain":false,"labelFontSize":35,"labelPadding":45,"labelBaseline":"alphabetic","format":".1f","title":"Photon energy (eV)","titleFontSize":37,"titleX":310,"titleY":91,"titleBaseline":"alphabetic","titleAlign":"center"}},
    "y":{"field":"v","type":"quantitative","scale":{"domain":[-1.047,4.708],"nice":false,"zero":false},
     "axis":{"orient":"left","values":[0],"ticks":false,"labels":false,"domain":false,"title":"PL intensity (arb. units)","titleFontSize":44,"titleX":-57,"titleY":333,"titleAngle":270,"titleAlign":"center","titleBaseline":"middle"}}}},
  {"data":{"name":"fb"},"mark":{"type":"line","color":"#0c0cc4","strokeWidth":3.8,"strokeDash":[0.1,6.5],"strokeCap":"round","interpolate":"monotone"},
   "encoding":{
    "x":{"field":"e","type":"quantitative","scale":{"domain":[1.586,2.414],"nice":false,"zero":false},
     "axis":{"orient":"top","offset":-610,"values":[1.6,1.8,2.0,2.2,2.4],"tickSize":17,"tickWidth":2,"labels":false,"domain":false,"title":null}},
    "y":{"field":"v","type":"quantitative","scale":{"domain":[-1.047,4.708],"nice":false,"zero":false},
     "axis":{"orient":"right","offset":-613,"values":[0,1,2,3,4],"tickSize":18,"tickWidth":2,"labels":false,"domain":false,"title":null}},
    "detail":{"field":"c","type":"nominal"}}},
  {"data":{"name":"tb"},"mark":{"type":"line","color":"#66c61c","strokeWidth":4.5,"interpolate":"monotone"},
   "encoding":{
    "x":{"field":"e","type":"quantitative","scale":{"domain":[1.586,2.414],"nice":false,"zero":false},
     "axis":{"orient":"top","offset":-610,"values":[1.6,1.62,1.64,1.66,1.68,1.7,1.72,1.74,1.76,1.78,1.8,1.82,1.84,1.86,1.88,1.9,1.92,1.94,1.96,1.98,2,2.02,2.04,2.06,2.08,2.1,2.12,2.14,2.16,2.18,2.2,2.22,2.24,2.26,2.28,2.3,2.32,2.34,2.36,2.38,2.4],"tickSize":8,"tickWidth":1.5,"labels":false,"domain":false,"title":null}},
    "y":{"field":"v","type":"quantitative","scale":{"domain":[-1.047,4.708],"nice":false,"zero":false},
     "axis":{"orient":"left","offset":-613,"values":[0,1,2,3,4],"tickSize":18,"tickWidth":2,"labels":false,"domain":false,"title":null}}}},
  {"data":{"name":"db"},"mark":{"type":"line","color":"#ff2277","strokeWidth":1.6},
   "encoding":{
    "x":{"field":"e","type":"quantitative","scale":{"domain":[1.586,2.414],"nice":false,"zero":false},
     "axis":{"orient":"bottom","offset":-610,"values":[1.6,1.8,2.0,2.2,2.4],"tickSize":17,"tickWidth":2,"labels":false,"domain":false,"title":null}},
    "y":{"field":"v","type":"quantitative","scale":{"domain":[-1.047,4.708],"nice":false,"zero":false},"axis":null}}},
  {"data":{"values":[{}]},"mark":{"type":"point","shape":"circle","filled":false,"color":"#ff0000","strokeWidth":2,"size":154,"opacity":1},
   "encoding":{
    "x":{"datum":1.6643,"type":"quantitative",
     "axis":{"orient":"bottom","offset":-610,"values":[1.6,1.62,1.64,1.66,1.68,1.7,1.72,1.74,1.76,1.78,1.8,1.82,1.84,1.86,1.88,1.9,1.92,1.94,1.96,1.98,2,2.02,2.04,2.06,2.08,2.1,2.12,2.14,2.16,2.18,2.2,2.22,2.24,2.26,2.28,2.3,2.32,2.34,2.36,2.38,2.4],"tickSize":8,"tickWidth":1.5,"labels":false,"domain":false,"title":null}},
    "y":{"datum":2.463,"type":"quantitative","axis":null}}},
  {"data":{"values":[{}]},"mark":{"type":"rule","color":"#0c0cc4","strokeWidth":3.8,"strokeDash":[0.1,6.5],"strokeCap":"round"},
   "encoding":{"x":{"datum":1.6387,"type":"quantitative","axis":null},"x2":{"datum":1.7265},"y":{"datum":2.095,"type":"quantitative","axis":null}}},
  {"data":{"values":[{}]},"mark":{"type":"rule","color":"#66c61c","strokeWidth":5},
   "encoding":{"x":{"datum":1.6387,"type":"quantitative","axis":null},"x2":{"datum":1.7319},"y":{"datum":1.708,"type":"quantitative","axis":null}}},
  {"data":{"values":[{}]},"mark":{"type":"rule","color":"#ff2277","strokeWidth":1.8},
   "encoding":{"x":{"datum":1.6387,"type":"quantitative","axis":null},"x2":{"datum":1.7346},"y":{"datum":1.302,"type":"quantitative","axis":null}}},
  {"data":{"values":[{}]},"mark":{"type":"text","text":"PL","align":"left","baseline":"alphabetic","fontSize":36},
   "encoding":{"x":{"datum":1.7427,"type":"quantitative","axis":null},"y":{"datum":2.397,"type":"quantitative","axis":null}}},
  {"data":{"values":[{}]},"mark":{"type":"text","text":"Fitting","align":"left","baseline":"alphabetic","fontSize":36},
   "encoding":{"x":{"datum":1.7562,"type":"quantitative","axis":null},"y":{"datum":2.019,"type":"quantitative","axis":null}}},
  {"data":{"values":[{}]},"mark":{"type":"text","text":"Total fitting","align":"left","baseline":"alphabetic","fontSize":36},
   "encoding":{"x":{"datum":1.7562,"type":"quantitative","axis":null},"y":{"datum":1.595,"type":"quantitative","axis":null}}},
  {"data":{"values":[{}]},"mark":{"type":"text","text":"Different","align":"left","baseline":"alphabetic","fontSize":36},
   "encoding":{"x":{"datum":1.7562,"type":"quantitative","axis":null},"y":{"datum":1.199,"type":"quantitative","axis":null}}},
  {"data":{"values":[{}]},"mark":{"type":"text","text":"InGaPN/GaP SQW","align":"left","baseline":"alphabetic","fontSize":37},
   "encoding":{"x":{"datum":1.636,"type":"quantitative","axis":null},"y":{"datum":4.189,"type":"quantitative","axis":null}}},
  {"data":{"values":[{}]},"mark":{"type":"text","text":"(x = 0.050, y = 0.025)","align":"left","baseline":"alphabetic","fontSize":37},
   "encoding":{"x":{"datum":1.636,"type":"quantitative","axis":null},"y":{"datum":3.793,"type":"quantitative","axis":null}}},
  {"data":{"values":[{}]},"mark":{"type":"text","text":"L","align":"left","baseline":"alphabetic","fontSize":37},
   "encoding":{"x":{"datum":1.636,"type":"quantitative","axis":null},"y":{"datum":3.406,"type":"quantitative","axis":null}}},
  {"data":{"values":[{}]},"mark":{"type":"text","text":"Z","align":"left","baseline":"alphabetic","fontSize":26},
   "encoding":{"x":{"datum":1.6684,"type":"quantitative","axis":null},"y":{"datum":3.293,"type":"quantitative","axis":null}}},
  {"data":{"values":[{}]},"mark":{"type":"text","text":"= 1.6 nm","align":"left","baseline":"alphabetic","fontSize":37},
   "encoding":{"x":{"datum":1.6954,"type":"quantitative","axis":null},"y":{"datum":3.406,"type":"quantitative","axis":null}}},
  {"data":{"values":[{}]},"mark":{"type":"text","text":"(b)","align":"center","baseline":"alphabetic","fontSize":42},
   "encoding":{"x":{"datum":2.3384,"type":"quantitative","axis":null},"y":{"datum":4.123,"type":"quantitative","axis":null}}},
  {"data":{"values":[{}]},"mark":{"type":"text","text":"A","align":"center","baseline":"middle","fontSize":26},
   "encoding":{"x":{"datum":2.156,"type":"quantitative","axis":null},"y":{"datum":2.84,"type":"quantitative","axis":null}}},
  {"data":{"values":[{}]},"mark":{"type":"text","text":"C","align":"center","baseline":"middle","fontSize":26},
   "encoding":{"x":{"datum":2.1101,"type":"quantitative","axis":null},"y":{"datum":2.491,"type":"quantitative","axis":null}}},
  {"data":{"values":[{}]},"mark":{"type":"text","text":"B","align":"center","baseline":"middle","fontSize":26},
   "encoding":{"x":{"datum":2.1236,"type":"quantitative","axis":null},"y":{"datum":1.689,"type":"quantitative","axis":null}}},
  {"data":{"values":[{}]},"mark":{"type":"text","text":"D","align":"center","baseline":"middle","fontSize":26},
   "encoding":{"x":{"datum":2.0412,"type":"quantitative","axis":null},"y":{"datum":0.868,"type":"quantitative","axis":null}}}
 ]}
]
}
